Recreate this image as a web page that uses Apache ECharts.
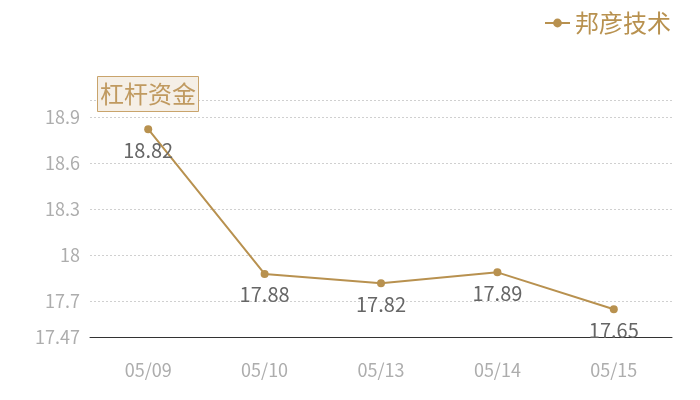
<!DOCTYPE html>
<html lang="zh">
<head>
    <meta charset="UTF-8">
    <title>邦彦技术 杠杆资金</title>
    <script src="https://cdn.jsdelivr.net/npm/echarts@6/dist/echarts.min.js"></script>
    <style>
        * { margin: 0; padding: 0; box-sizing: border-box; }
        body { background: #ffffff; }
        #chart { width: 700px; height: 400px; }
    </style>
</head>
<body>
    <div id="chart"></div>
    <script type="text/javascript">
        // data
        const dates = ['05/09', '05/10', '05/13', '05/14', '05/15'];
        const values = [18.82, 17.88, 17.82, 17.89, 17.65];
        const seriesName = '邦彦技术';
        const axisTitle = '杠杆资金';
        const yMin = 17.47;
        const yMax = 19.01;

        const gold = '#b8914f';
        const font = '"Noto Sans CJK SC", "Noto Sans", sans-serif';

        const myChart = echarts.init(document.getElementById('chart'));

        myChart.setOption({
            animation: false,
            textStyle: { fontFamily: font },
            title: {
                text: axisTitle,
                left: 97,
                top: 76,
                padding: [5, 3, 5, 3],
                backgroundColor: '#f5efe6',
                borderColor: '#c9a46c',
                borderWidth: 1,
                textStyle: {
                    color: '#c09a60',
                    fontSize: 24,
                    fontWeight: 'normal',
                    fontFamily: font,
                    lineHeight: 26
                }
            },
            legend: {
                right: 24,
                top: 6,
                itemWidth: 25,
                itemHeight: 11,
                itemGap: 8,
                textStyle: { color: gold, fontSize: 24, fontFamily: font },
                data: [seriesName]
            },
            grid: { left: 90, right: 28, top: 100, bottom: 63 },
            xAxis: {
                type: 'category',
                data: dates,
                boundaryGap: true,
                axisLine: { lineStyle: { color: '#333', width: 1 } },
                axisTick: { show: false },
                axisLabel: { color: '#adadad', fontSize: 18, margin: 24 }
            },
            yAxis: {
                type: 'value',
                min: yMin,
                max: yMax,
                splitNumber: 5,
                axisLine: { show: false },
                axisTick: { show: false },
                axisLabel: {
                    color: '#adadad',
                    fontSize: 18,
                    margin: 10,
                    showMaxLabel: false,
                    formatter: function (v) { return String(+v.toFixed(2)); }
                },
                splitLine: { lineStyle: { color: '#d0d0d0', type: [2, 2] } }
            },
            series: [{
                name: seriesName,
                type: 'line',
                data: values,
                symbol: 'circle',
                symbolSize: 8,
                itemStyle: { color: gold },
                lineStyle: { color: gold, width: 2 },
                label: {
                    show: true,
                    position: 'bottom',
                    distance: 7,
                    color: '#666',
                    fontSize: 20
                }
            }]
        });

        window.addEventListener('resize', function () {
            myChart.resize();
        });
    </script>
</body>
</html>
